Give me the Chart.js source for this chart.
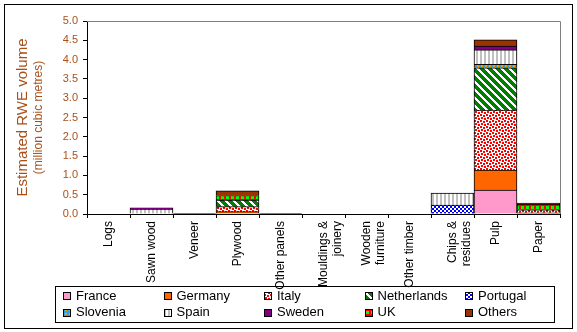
<!DOCTYPE html>
<html>
<head>
<meta charset="utf-8">
<script src="https://cdn.jsdelivr.net/npm/chart.js@4/dist/chart.umd.min.js"></script>
<style>
  html, body { margin: 0; padding: 0; background: #fff; }
  #wrap { width: 577px; height: 332px; }
</style>
</head>
<body>
<div id="wrap"><canvas id="rweChart" width="577" height="332"></canvas></div>
<script>
// categories and series (million cubic metres RWE)
const categories = ['Logs', 'Sawn wood', 'Veneer', 'Plywood', 'Other panels', ['Mouldings &', 'joinery'],
    ['Wooden', 'furniture'], 'Other timber', ['Chips &', 'residues'], 'Pulp', 'Paper'];
const france      = [0, 0,    0,    0,    0,    0, 0, 0, 0,    0.62, 0];
const germany     = [0, 0,    0,    0.06, 0,    0, 0, 0, 0,    0.52, 0.03];
const italy       = [0, 0,    0,    0.13, 0,    0, 0, 0, 0,    1.55, 0.08];
const netherlands = [0, 0,    0,    0.17, 0,    0, 0, 0, 0,    1.10, 0];
const portugal    = [0, 0,    0,    0,    0,    0, 0, 0, 0.23, 0,    0];
const slovenia    = [0, 0,    0,    0,    0,    0, 0, 0, 0,    0.09, 0];
const spain       = [0, 0.13, 0,    0,    0,    0, 0, 0, 0.31, 0.37, 0];
const sweden      = [0, 0.03, 0,    0,    0,    0, 0, 0, 0,    0.10, 0];
const uk          = [0, 0,    0,    0.12, 0,    0, 0, 0, 0,    0,    0.15];
const others      = [0, 0,    0.02, 0.12, 0.02, 0, 0, 0, 0,    0.16, 0.02];
const yTicks = [0, 0.5, 1, 1.5, 2, 2.5, 3, 3.5, 4, 4.5, 5];

document.addEventListener('DOMContentLoaded', function() {
    const ctx = document.getElementById('rweChart').getContext('2d');
    const FONT = '"Liberation Sans", Arial, sans-serif';
    const BROWN = '#A8501A';

    // small tiles turned into canvas patterns
    function pattern(w, h, draw) {
        const c = document.createElement('canvas');
        c.width = w; c.height = h;
        const g = c.getContext('2d');
        draw(g);
        return ctx.createPattern(c, 'repeat');
    }
    const fills = {
        france: '#FF99CC',
        germany: '#FF6600',
        italy: pattern(6, 6, g => {
            g.fillStyle = '#fff'; g.fillRect(0, 0, 6, 6);
            g.fillStyle = '#FF0000';
            [[0, 0], [3, 1], [1, 3], [4, 4]].forEach(p => g.fillRect(p[0], p[1], 2, 2));
        }),
        netherlands: pattern(8, 8, g => {
            g.fillStyle = '#008000'; g.fillRect(0, 0, 8, 8);
            g.fillStyle = '#fff';
            for (let y = 0; y < 8; y++) for (let k = 0; k < 3; k++) g.fillRect((y + k) % 8, y, 1, 1);
        }),
        portugal: pattern(4, 4, g => {
            g.fillStyle = '#fff'; g.fillRect(0, 0, 4, 4);
            g.fillStyle = '#0000FF'; g.fillRect(0, 0, 2, 2); g.fillRect(2, 2, 2, 2);
        }),
        slovenia: pattern(4, 4, g => {
            g.fillStyle = '#33A0E0'; g.fillRect(0, 0, 4, 4);
            g.fillStyle = '#FF9900'; g.fillRect(1, 1, 2, 2);
        }),
        spain: pattern(4, 4, g => {
            g.fillStyle = '#fff'; g.fillRect(0, 0, 4, 4);
            g.fillStyle = '#C0C0C0'; g.fillRect(0, 0, 2, 4);
        }),
        sweden: '#800080',
        uk: pattern(5, 5, g => {
            g.fillStyle = '#FF0000'; g.fillRect(0, 0, 5, 5);
            g.fillStyle = '#00FF00'; g.fillRect(1, 1, 3, 3);
        }),
        others: '#993300'
    };

    const series = [
        ['France', france, fills.france], ['Germany', germany, fills.germany],
        ['Italy', italy, fills.italy], ['Netherlands', netherlands, fills.netherlands],
        ['Portugal', portugal, fills.portugal], ['Slovenia', slovenia, fills.slovenia],
        ['Spain', spain, fills.spain], ['Sweden', sweden, fills.sweden],
        ['UK', uk, fills.uk], ['Others', others, fills.others]
    ];

    // frame, plot border, y title and legend
    const decor = {
        id: 'decor',
        afterDraw(chart) {
            const c = chart.ctx;
            const a = chart.chartArea;
            c.save();
            c.lineWidth = 1;
            c.strokeStyle = '#000';
            c.strokeRect(4.5, 4.5, 568, 324);
            c.strokeStyle = '#808080';
            c.beginPath();
            c.moveTo(a.left, a.top + 0.5); c.lineTo(a.right + 0.5, a.top + 0.5);
            c.lineTo(a.right + 0.5, a.bottom);
            c.stroke();

            // y axis title, two lines
            const mid = (a.top + a.bottom) / 2;
            c.fillStyle = BROWN;
            c.textAlign = 'center';
            c.textBaseline = 'middle';
            c.translate(23, mid);
            c.rotate(-Math.PI / 2);
            c.font = '15px ' + FONT;
            c.fillText('Estimated RWE volume', 0, 0);
            c.font = '12px ' + FONT;
            c.fillText('(million cubic metres)', 0, 16);
            c.setTransform(1, 0, 0, 1, 0, 0);

            // legend box
            c.strokeStyle = '#000';
            c.strokeRect(55.5, 286.5, 499, 36);
            c.font = '13px ' + FONT;
            c.textAlign = 'left';
            c.fillStyle = '#000';
            chart.data.datasets.forEach((ds, i) => {
                const col = i % 5, row = Math.floor(i / 5);
                const x = 63 + col * 100.5;
                const y = 296 + row * 16.5;
                c.fillStyle = ds.backgroundColor;
                c.fillRect(Math.round(x), Math.round(y - 4), 7, 7);
                c.strokeRect(Math.round(x) + 0.5, Math.round(y - 4) + 0.5, 7, 7);
                c.fillStyle = '#000';
                c.fillText(ds.label, x + 13, y);
            });
            c.restore();
        }
    };

    new Chart(ctx, {
        type: 'bar',
        data: {
            labels: categories,
            datasets: series.map(s => ({
                label: s[0],
                data: s[1],
                backgroundColor: s[2],
                borderColor: '#000',
                borderWidth: 1,
                barPercentage: 1,
                categoryPercentage: 1
            }))
        },
        options: {
            responsive: false,
            animation: false,
            layout: { padding: { left: 0, right: 17, top: 21, bottom: 0 } },
            scales: {
                x: {
                    stacked: true,
                    grid: { offset: true, drawOnChartArea: false, tickLength: 4, color: '#000' },
                    border: { color: '#000' },
                    ticks: {
                        maxRotation: 90, minRotation: 90, autoSkip: false, padding: 3,
                        color: '#000', font: { family: FONT, size: 12 }
                    },
                    afterFit: s => { s.height = 118; }
                },
                y: {
                    stacked: true,
                    min: 0, max: 5,
                    afterBuildTicks: s => { s.ticks = yTicks.map(v => ({ value: v })); },
                    grid: { drawOnChartArea: false, tickLength: 4, color: '#000' },
                    border: { color: '#000' },
                    ticks: {
                        padding: 5, color: BROWN, font: { family: FONT, size: 11 },
                        callback: v => Number(v).toFixed(1)
                    },
                    afterFit: s => { s.width = 87; }
                }
            },
            plugins: {
                legend: { display: false },
                tooltip: { enabled: false }
            }
        },
        plugins: [decor]
    });
});
</script>
</body>
</html>
